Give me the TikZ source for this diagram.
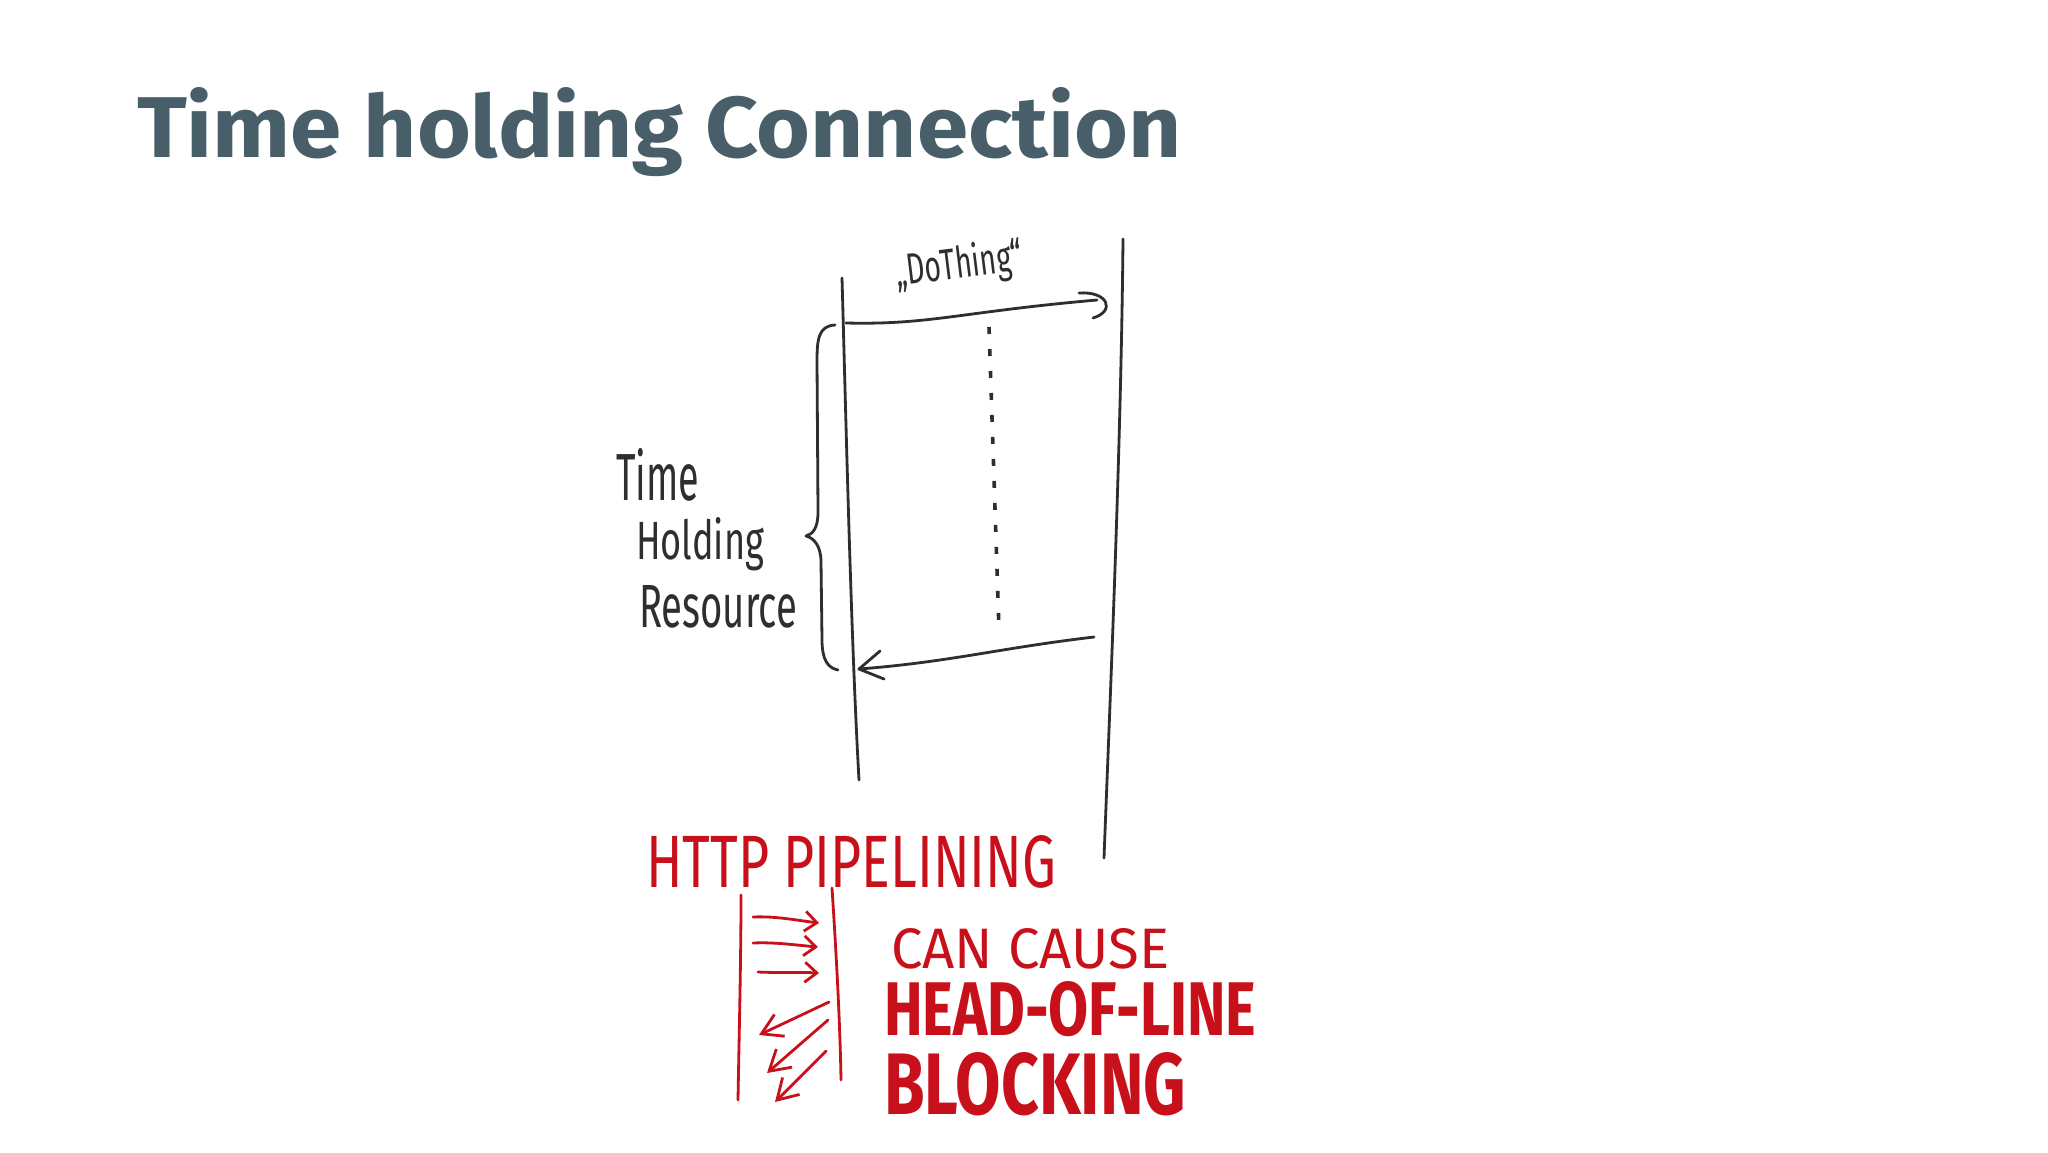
\documentclass[tikz,border=0pt]{standalone}
\usepackage{fontspec}
\usepackage{graphicx}
\setmainfont{Fira Sans}
\usetikzlibrary{arrows.meta}
\definecolor{titlecol}{HTML}{485E69}
\definecolor{ink}{HTML}{2E2E2E}
\definecolor{redink}{HTML}{C8101A}
\newcommand{\fitbox}[3]{\resizebox{#1}{#2}{#3}}
\begin{document}
\begin{tikzpicture}[x=0.5pt,y=-0.5pt,
  inkline/.style={draw=ink,line width=1.4pt,line cap=round,line join=round},
  redline/.style={draw=redink,line width=1.4pt,line cap=round,line join=round},
  redarrow/.style={redline,-{Straight Barb[length=6pt,width=10pt,line width=1.4pt]}},
  redarrowbig/.style={redline,-{Straight Barb[length=10pt,width=12pt,line width=1.4pt]}},
  lbl/.style={anchor=base west,inner sep=0pt,outer sep=0pt},
  inktext/.style={lbl,text=ink},
  redtext/.style={lbl,text=redink}]
\useasboundingbox[fill=white] (0,0) rectangle (2048,1152);

% title
\node[lbl,text=titlecol] (title) at (137,157) {\fitbox{522pt}{35pt}{\bfseries Time holding Connection}};

% lifelines
\coordinate (Ltop) at (842,278);
\coordinate (Lbot) at (859,780);
\coordinate (Rtop) at (1123,239);
\coordinate (Rbot) at (1104,858);
\draw[inkline] (Ltop) .. controls (846,420) and (851,640) .. (Lbot);
\draw[inkline] (Rtop) .. controls (1121,450) and (1110,700) .. (Rbot);

% request message
\coordinate (m1s) at (846,323);
\coordinate (m1e) at (1097,300);
\draw[inkline] (m1s) .. controls (930,325) and (960,312) .. (m1e);
\coordinate (h1a) at (1079,293);
\coordinate (h1b) at (1093,318);
\draw[inkline] (h1a) .. controls (1108,291) and (1116,311) .. (h1b);
\node[inktext,rotate=7] (dothing) at (897,286) {\fitbox{64pt}{17pt}{„DoThing“}};

% processing (dotted)
\coordinate (d1) at (989,327);
\coordinate (d2) at (999,630);
\draw[draw=ink,line width=1.8pt,dash pattern=on 3.5pt off 7.5pt] (d1) -- (d2);

% response message
\coordinate (m2s) at (1094,637);
\coordinate (m2e) at (859,669);
\draw[inkline] (m2s) .. controls (1000,648) and (950,662) .. (m2e);
\coordinate (h2a) at (880,651);
\coordinate (h2b) at (884,679);
\draw[inkline] (h2a) -- (m2e) -- (h2b);

% brace
\coordinate (bt) at (835,325);
\coordinate (btip) at (806,536);
\coordinate (bb) at (838,670);
\draw[inkline] (bt) .. controls (818,326) and (817,340) .. (817,362) -- (818,512)
  .. controls (818,528) and (813,534) .. (btip)
  .. controls (814,538) and (821,546) .. (821,562) -- (822,640)
  .. controls (822,660) and (828,668) .. (bb);

% brace label
\node[inktext] (ltime) at (616,500) {\fitbox{41.5pt}{26pt}{Time}};
\node[inktext] (lhold) at (636,559) {\fitbox{64pt}{21pt}{Holding}};
\node[inktext] (lres) at (639,627) {\fitbox{79pt}{21pt}{Resource}};

% HTTP pipelining
\node[redtext] (http) at (646,887) {\fitbox{205pt}{26pt}{HTTP PIPELINING}};
\coordinate (pl1) at (741,895);
\coordinate (pl2) at (738,1100);
\coordinate (pr1) at (832,888);
\coordinate (pr2) at (841,1080);
\draw[redline] (pl1) .. controls (741,960) and (739,1040) .. (pl2);
\draw[redline] (pr1) .. controls (836,950) and (840,1020) .. (pr2);

\coordinate (a1s) at (753,917); \coordinate (a1e) at (819,923);
\coordinate (a2s) at (753,943); \coordinate (a2e) at (818,947);
\coordinate (a3s) at (758,972); \coordinate (a3e) at (819,973);
\draw[redarrow] (a1s) .. controls (775,916) and (795,920) .. (a1e);
\draw[redarrow] (a2s) .. controls (775,942) and (795,945) .. (a2e);
\draw[redarrow] (a3s) .. controls (780,973) and (800,972) .. (a3e);

\coordinate (b1s) at (829,1002); \coordinate (b1e) at (759,1035);
\coordinate (b2s) at (828,1020); \coordinate (b2e) at (767,1073);
\coordinate (b3s) at (826,1051); \coordinate (b3e) at (775,1102);
\draw[redarrowbig] (b1s) -- (b1e);
\draw[redarrowbig] (b2s) -- (b2e);
\draw[redarrowbig] (b3s) -- (b3e);

\node[redtext] (can) at (891,968) {\fitbox{139pt}{20pt}{CAN CAUSE}};
\node[redtext] (hol) at (884,1035) {\fitbox{186pt}{27pt}{\bfseries HEAD-OF-LINE}};
\node[redtext] (blk) at (884,1114) {\fitbox{151pt}{31pt}{\bfseries BLOCKING}};
\end{tikzpicture}
\end{document}
